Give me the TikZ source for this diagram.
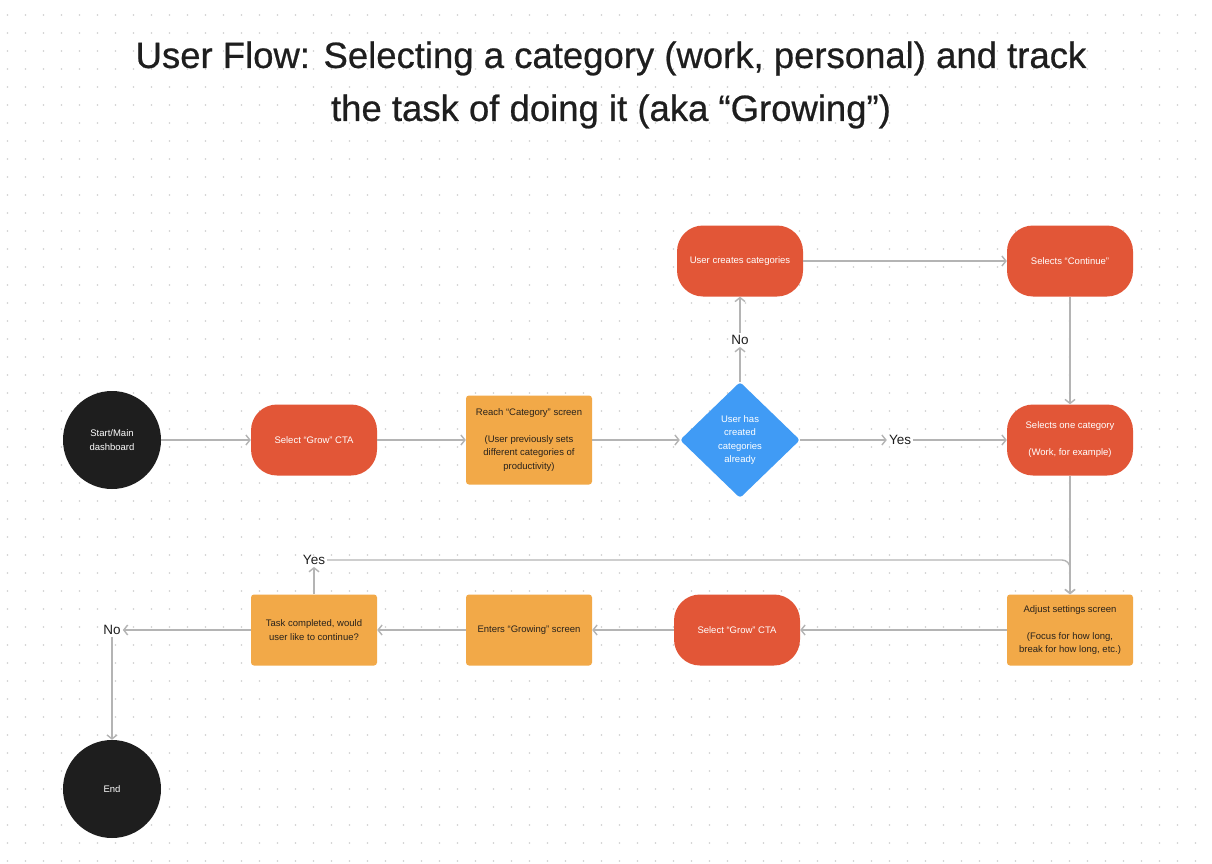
\documentclass[tikz,border=0pt]{standalone}
\usepackage{fontspec}
\setmainfont{Liberation Sans}
\newfontfamily\titlefont[FakeBold=0.6]{Liberation Sans}
\usetikzlibrary{arrows.meta,positioning,shapes.geometric}
\definecolor{flowred}{RGB}{226,86,55}
\definecolor{floworange}{RGB}{242,169,72}
\definecolor{flowblue}{RGB}{64,155,245}
\definecolor{flowblack}{RGB}{30,30,30}
\definecolor{flowtext}{RGB}{40,34,28}
\definecolor{flowgrey}{RGB}{180,180,180}
\definecolor{dotgrey}{RGB}{205,205,205}

\begin{document}
\begin{tikzpicture}[x=1pt, y=-1pt, every node/.style={font=\fontsize{9.5}{13.5}\selectfont}]
\tikzset{startend/.style={circle, fill=flowblack, text=white, minimum size=98pt, inner sep=0pt, align=center},
  action/.style={rectangle, rounded corners=26pt, fill=flowred, text=white, minimum width=126pt, minimum height=71pt, align=center},
  screen/.style={rectangle, rounded corners=3pt, fill=floworange, text=flowtext, minimum width=126pt, minimum height=71pt, align=center},
  decision/.style={diamond, rounded corners=3pt, fill=flowblue, text=white, minimum width=120pt, minimum height=116pt, inner sep=0pt, align=center},
  lbl/.style={font=\fontsize{13.5}{16}\selectfont, text=flowblack, inner sep=2pt},
  flow/.style={draw=flowgrey, line width=1.4pt, -{Straight Barb[length=4pt,width=10pt]}}}
\useasboundingbox (0,0) rectangle (1212,864);
\fill[white] (0,0) rectangle (1212,864);
% dotted canvas
\foreach \i in {0,...,67}
  \foreach \j in {0,...,47}
    \fill[dotgrey] (7.5+18*\i, 15+18*\j) circle (0.9);

\node[font=\titlefont\fontsize{36.5}{53}\selectfont, align=center, text=flowblack] (title) at (611,85)
  {User Flow: Selecting a category (work, personal) and track\\the task of doing it (aka “Growing”)};

% top row
\node[startend] (start) at (112,440) {Start/Main\\dashboard};
\node[action] (grow1) at (314,440) {Select “Grow” CTA};
\node[screen, minimum height=89pt] (cat) at (529,440) {Reach “Category” screen\\[13.5pt](User previously sets\\different categories of\\productivity)};
\node[decision] (has) at (740,440) {User has\\created\\categories\\already};
\node[lbl] (yes1) at (900,440) {Yes};
\node[lbl] (no1) at (740,340) {No};
\node[action] (create) at (740,261) {User creates categories};
\node[action] (cont) at (1070,261) {Selects “Continue”};
\node[action] (one) at (1070,440) {Selects one category\\[13.5pt](Work, for example)};

% bottom row
\node[screen] (adj) at (1070,630) {Adjust settings screen\\[13.5pt](Focus for how long,\\break for how long, etc.)};
\node[action] (grow2) at (737,630) {Select “Grow” CTA};
\node[screen] (enter) at (529,630) {Enters “Growing” screen};
\node[screen] (task) at (314,630) {Task completed, would\\user like to continue?};
\node[lbl] (yes2) at (314,560) {Yes};
\node[lbl] (no2) at (112,630) {No};
\node[startend] (end) at (112,789) {End};

\draw[flow] (start) -- (grow1);
\draw[flow] (grow1) -- (cat);
\draw[flow] (cat) -- (has);
\draw[flow] (has) -- (yes1);
\draw[flow] (yes1) -- (one);
\draw[flow] (has) -- (no1);
\draw[flow] (no1) -- (create);
\draw[flow] (create) -- (cont);
\draw[flow] (cont) -- (one);
\draw[flow] (one) -- (adj);
\draw[flow] (adj) -- (grow2);
\draw[flow] (grow2) -- (enter);
\draw[flow] (enter) -- (task);
\draw[flow] (task) -- (yes2);
\draw[flow, rounded corners=8pt] (yes2.east) -- (yes2.east -| adj.north) -- (adj.north);
\draw[flow] (task) -- (no2);
\draw[flow] (no2) -- (end);
\end{tikzpicture}
\end{document}
